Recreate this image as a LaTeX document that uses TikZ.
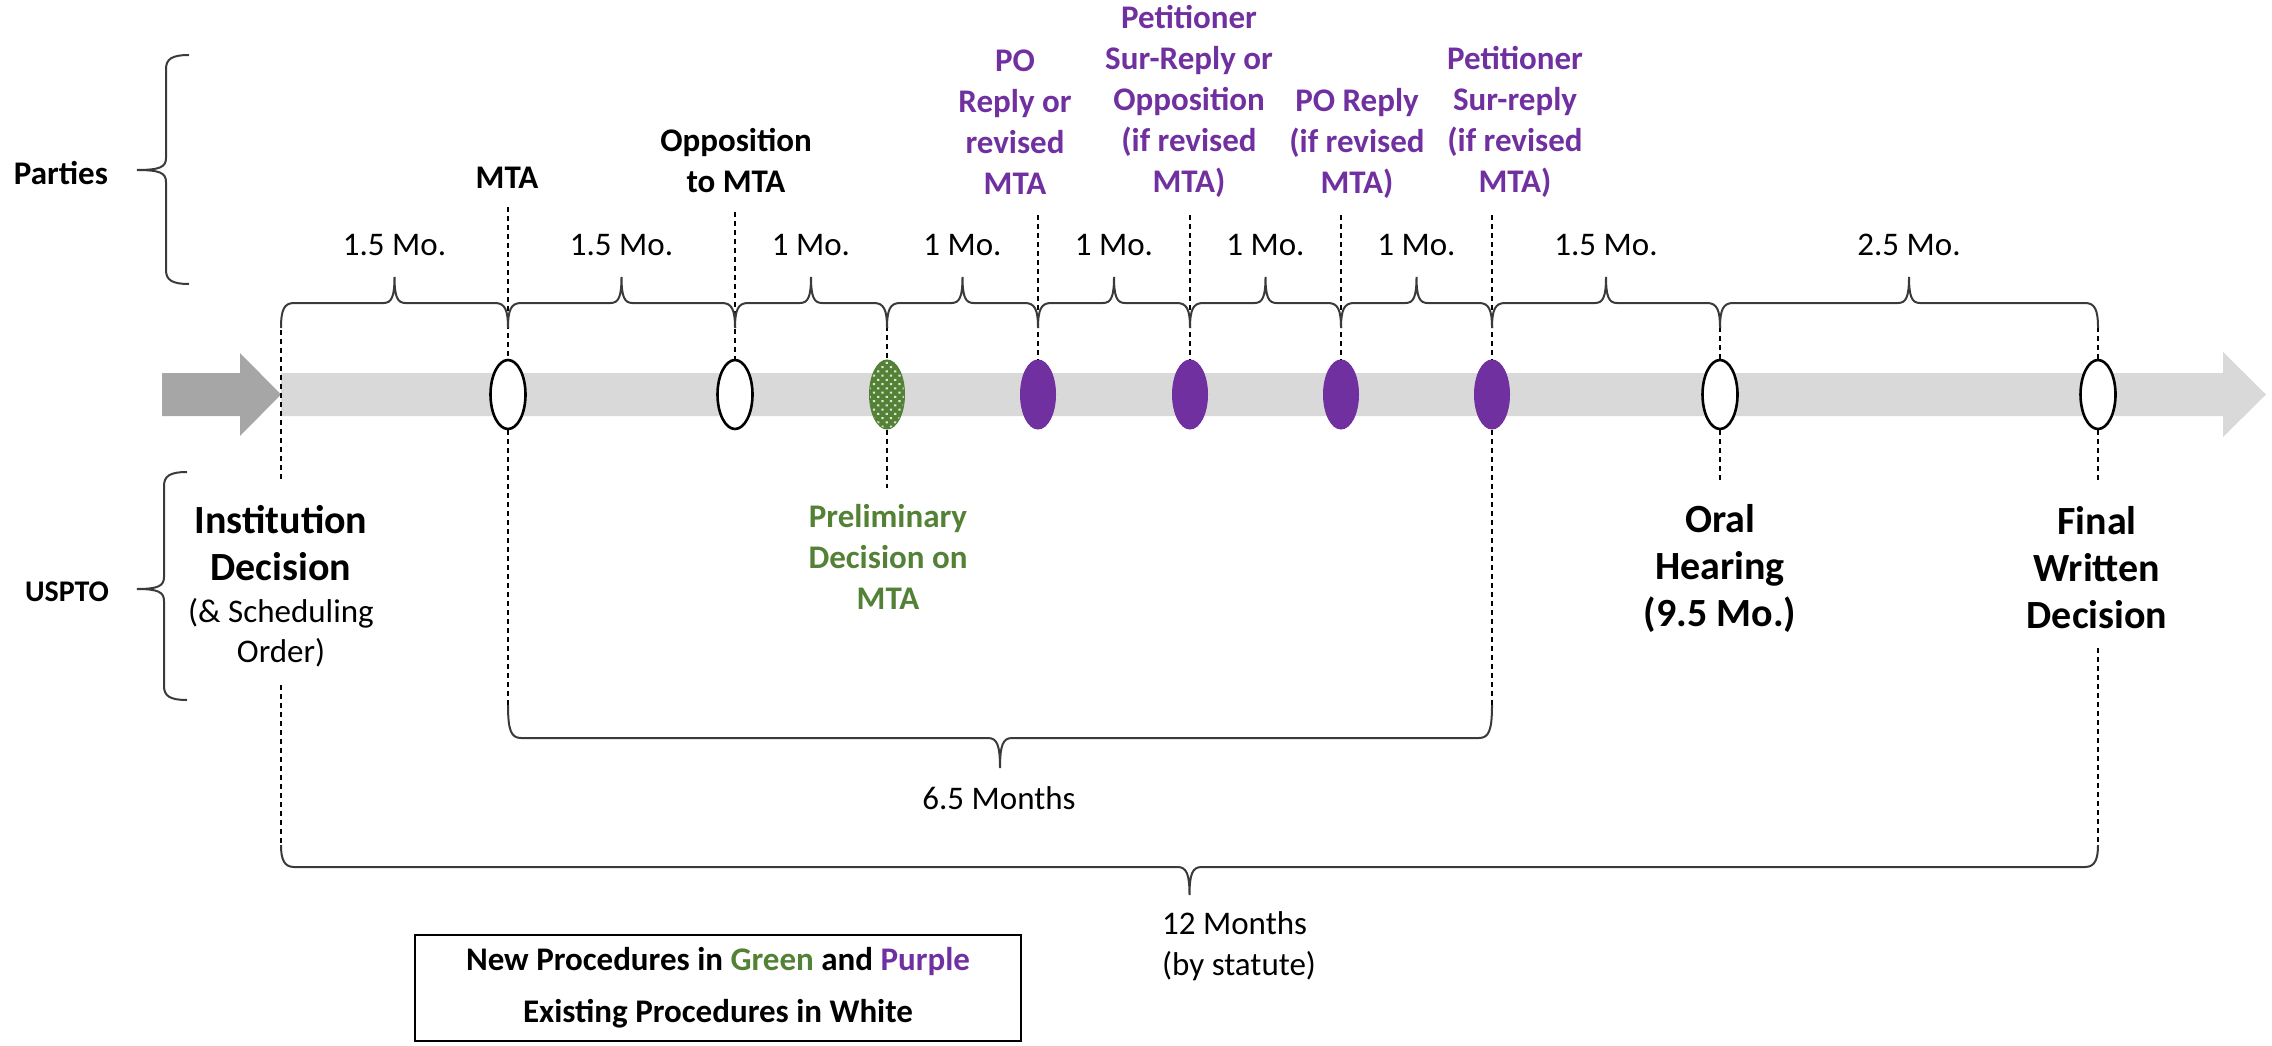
\documentclass[tikz,border=0pt]{standalone}
\usepackage{fontspec}
\setmainfont{Carlito}
\usetikzlibrary{shapes.geometric,patterns.meta}
\definecolor{ptpurple}{HTML}{7030A0}
\definecolor{mtagreen}{HTML}{538135}
\definecolor{bargray}{HTML}{D9D9D9}
\definecolor{arrgray}{HTML}{A6A6A6}
\definecolor{bracegray}{HTML}{3A3A3A}
% top brace (tip up): #1 left x, #2 right x
\newcommand\tbrace[2]{%
  \pgfmathsetmacro\bmidx{(#1+#2)/2}%
  \draw[bracestyle] (#1,328) .. controls (#1,310) and (#1+3,303) .. (#1+13,303)
    -- (\bmidx-11,303) .. controls (\bmidx-3,303) and (\bmidx,297) .. (\bmidx,277)
    .. controls (\bmidx,297) and (\bmidx+3,303) .. (\bmidx+11,303)
    -- (#2-13,303) .. controls (#2-3,303) and (#2,310) .. (#2,328);}
% bottom brace (tip down): #1 left x, #2 right x, #3 end y, #4 line y, #5 tip y
\newcommand\bbrace[5]{%
  \pgfmathsetmacro\bmidx{(#1+#2)/2}%
  \draw[bracestyle] (#1,#3) .. controls (#1,#4-8) and (#1+3,#4) .. (#1+13,#4)
    -- (\bmidx-12,#4) .. controls (\bmidx-3,#4) and (\bmidx,#4+7) .. (\bmidx,#5)
    .. controls (\bmidx,#4+7) and (\bmidx+3,#4) .. (\bmidx+12,#4)
    -- (#2-13,#4) .. controls (#2-3,#4) and (#2,#4-8) .. (#2,#3);}
% left brace (tip left): #1 line x, #2 end x, #3 tip x, #4 top y, #5 bottom y, #6 tip y
\newcommand\lbracev[6]{%
  \draw[bracestyle] (#2,#4) .. controls (#1+6,#4) and (#1,#4+4) .. (#1,#4+14)
    -- (#1,#6-12) .. controls (#1,#6-3) and (#1-6,#6) .. (#3,#6)
    .. controls (#1-6,#6) and (#1,#6+3) .. (#1,#6+12)
    -- (#1,#5-14) .. controls (#1,#5-4) and (#1+6,#5) .. (#2,#5);}
\begin{document}
\begin{tikzpicture}[x=1pt,y=-1pt,
  lbl/.style={font=\fontsize{33}{41}\selectfont, align=center, inner sep=0pt},
  blbl/.style={font=\fontsize{33}{41}\selectfont\bfseries, align=center, inner sep=0pt},
  biglbl/.style={font=\fontsize{40}{47}\selectfont\bfseries, align=center, inner sep=0pt},
  evt/.style={ellipse, minimum width=35pt, minimum height=69pt, inner sep=0pt},
  oldevt/.style={evt, draw=black, line width=2.6pt, fill=white},
  newevt/.style={evt, fill=ptpurple, draw=ptpurple, line width=1pt},
  greenevt/.style={evt, draw=mtagreen, line width=1pt, preaction={fill=mtagreen},
    pattern={Dots[distance=6pt,radius=1.5pt,angle=45]}, pattern color=white!80!mtagreen},
  dline/.style={line width=1.3pt, dash pattern=on 5pt off 4pt},
  bracestyle/.style={line width=2pt, draw=bracegray}
]
\useasboundingbox (0,0) rectangle (2272,1046);
% timeline bar and lead-in arrow
\fill[bargray] (281,373) -- (2223,373) -- (2223,352) -- (2266,394.5) -- (2223,437) -- (2223,416) -- (281,416) -- cycle;
\fill[arrgray] (162,373) -- (240,373) -- (240,353) -- (281,394.5) -- (240,436) -- (240,416) -- (162,416) -- cycle;

% coordinates for dashed line ends
\coordinate (iA) at (281,330);
\coordinate (iB) at (281,482);
\coordinate (iC) at (281,685);
\coordinate (iD) at (281,845);
\coordinate (mA) at (508,207);
\coordinate (mB) at (508,705);
\coordinate (oA) at (735,212);
\coordinate (gA) at (887,326);
\coordinate (gB) at (887,488);
\coordinate (p1A) at (1038,215);
\coordinate (p2A) at (1190,215);
\coordinate (p3A) at (1341,215);
\coordinate (p4A) at (1492,215);
\coordinate (p4B) at (1492,705);
\coordinate (hA) at (1720,327);
\coordinate (hB) at (1720,483);
\coordinate (fA) at (2098,327);
\coordinate (fB) at (2098,483);
\coordinate (fC) at (2098,648);
\coordinate (fD) at (2098,845);

% event ellipses
\node[oldevt] (eMTA) at (508,394.5) {};
\node[oldevt] (eOpp) at (735,394.5) {};
\node[greenevt] (ePrel) at (887,394.5) {};
\node[newevt] (ePO1) at (1038,394.5) {};
\node[newevt] (ePet1) at (1190,394.5) {};
\node[newevt] (ePO2) at (1341,394.5) {};
\node[newevt] (ePet2) at (1492,394.5) {};
\node[oldevt] (eOral) at (1720,394.5) {};
\node[oldevt] (eFinal) at (2098,394.5) {};

% dashed guide lines
\draw[dline] (iA) -- (iB);
\draw[dline] (iC) -- (iD);
\draw[dline] (mA) -- (eMTA.north);
\draw[dline] (eMTA.south) -- (mB);
\draw[dline] (oA) -- (eOpp.north);
\draw[dline] (gA) -- (ePrel.north);
\draw[dline] (ePrel.south) -- (gB);
\draw[dline] (p1A) -- (ePO1.north);
\draw[dline] (p2A) -- (ePet1.north);
\draw[dline] (p3A) -- (ePO2.north);
\draw[dline] (p4A) -- (ePet2.north);
\draw[dline] (ePet2.south) -- (p4B);
\draw[dline] (hA) -- (eOral.north);
\draw[dline] (eOral.south) -- (hB);
\draw[dline] (fA) -- (eFinal.north);
\draw[dline] (eFinal.south) -- (fB);
\draw[dline] (fC) -- (fD);

% braces
\tbrace{281}{508}
\tbrace{508}{735}
\tbrace{735}{887}
\tbrace{887}{1038}
\tbrace{1038}{1190}
\tbrace{1190}{1341}
\tbrace{1341}{1492}
\tbrace{1492}{1720}
\tbrace{1720}{2098}
\bbrace{508}{1492}{705}{738}{768}
\bbrace{281}{2098}{845}{867}{895}
\lbracev{166}{189}{137}{55}{284}{170}
\lbracev{164}{187}{137}{472}{700}{589}

% month labels
\node[lbl] (d1) at (394.5,245) {1.5 Mo.};
\node[lbl] (d2) at (621.5,245) {1.5 Mo.};
\node[lbl] (d3) at (811,245) {1 Mo.};
\node[lbl] (d4) at (962.5,245) {1 Mo.};
\node[lbl] (d5) at (1114,245) {1 Mo.};
\node[lbl] (d6) at (1265.5,245) {1 Mo.};
\node[lbl] (d7) at (1416.5,245) {1 Mo.};
\node[lbl] (d8) at (1606,245) {1.5 Mo.};
\node[lbl] (d9) at (1909,245) {2.5 Mo.};

% party labels
\node[blbl] (parties) at (61,173) {Parties};
\node[blbl, font=\fontsize{30}{36}\selectfont\bfseries] (uspto) at (67,592) {USPTO};
\node[blbl] (tMTA) at (507,178) {MTA};
\node[blbl] (tOpp) at (736,161) {Opposition\\to MTA};
\node[blbl, text=ptpurple] (tPO1) at (1015,122) {PO\\Reply or\\revised\\MTA};
\node[blbl, text=ptpurple] (tPet1) at (1189,101.5) {Petitioner\\Sur-Reply or\\Opposition\\(if revised\\MTA)};
\node[blbl, text=ptpurple] (tPO2) at (1357,143) {PO Reply\\(if revised\\MTA)};
\node[blbl, text=ptpurple] (tPet2) at (1515,122) {Petitioner\\Sur-reply\\(if revised\\MTA)};

% USPTO labels
\node[biglbl] (tInst) at (281,543.5) {Institution\\Decision};
\node[lbl, font=\fontsize{33}{40}\selectfont] (tInst2) at (281,633) {(\& Scheduling\\Order)};
\node[blbl, text=mtagreen] (tPrel) at (888,557) {Preliminary\\Decision on\\MTA};
\node[biglbl] (tOral) at (1720,568) {Oral\\Hearing\\(9.5 Mo.)};
\node[biglbl] (tFinal) at (2097,568) {Final\\Written\\Decision};

% spans
\node[lbl] (t65) at (999,798) {6.5 Months};
\node[lbl, align=left, anchor=west] (t12) at (1162,946) {12 Months\\(by statute)};

% legend
\node[draw=black, line width=2pt, minimum width=606pt, minimum height=106pt, inner sep=0pt,
  font=\fontsize{33}{52}\selectfont\bfseries, align=center] (legend) at (718,988)
  {New Procedures in \textcolor{mtagreen}{Green} and \textcolor{ptpurple}{Purple}\\Existing Procedures in White};
\end{tikzpicture}
\end{document}
